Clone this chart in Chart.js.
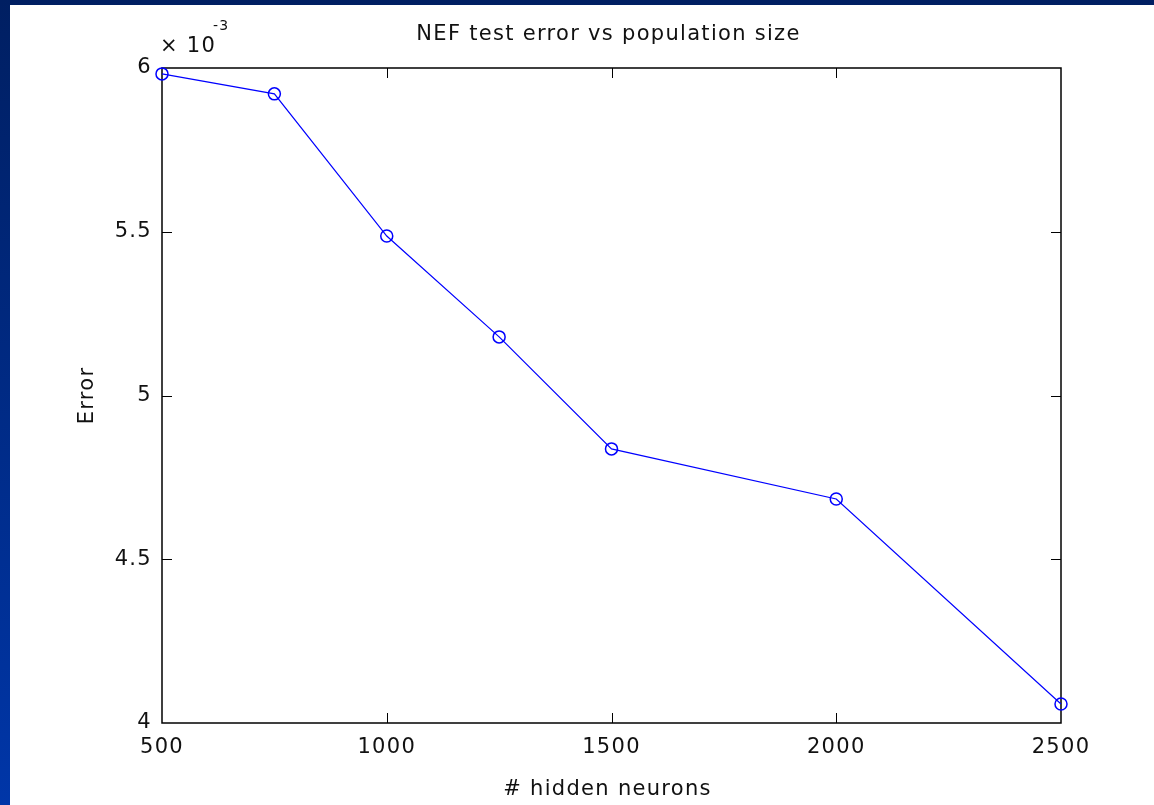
<!DOCTYPE html>
<html>
<head>
<meta charset="utf-8">
<script src="https://cdn.jsdelivr.net/npm/chart.js@4.4.1/dist/chart.umd.min.js"></script>
<style>
    html, body {
        margin: 0;
        padding: 0;
        width: 1154px;
        height: 805px;
        overflow: hidden;
        background: linear-gradient(to bottom, #001f62, #0036a8);
    }
    #marco {
        position: absolute;
        left: 10px;
        top: 5px;
        width: 1144px;
        height: 800px;
        background: #ffffff;
    }
</style>
</head>
<body>
<div id="marco">
    <canvas id="chartError" width="1144" height="800"></canvas>
</div>
<script>
const neurons = [500, 750, 1000, 1250, 1500, 2000, 2500];
const testError = [5.982e-3, 5.921e-3, 5.487e-3, 5.179e-3, 4.837e-3, 4.684e-3, 4.058e-3];
const xTicks = [500, 1000, 1500, 2000, 2500];
const yTicks = [4.0e-3, 4.5e-3, 5.0e-3, 5.5e-3, 6.0e-3];

const chartTitle = 'NEF test error vs population size';
const xLabel = '# hidden neurons';
const yLabel = 'Error';

const FONT = '"DejaVu Sans", sans-serif';
const SPACING = '1.3px';

// recuadro estilo matlab con marcas hacia dentro
const boxPlugin = {
    id: 'boxPlugin',
    beforeDraw: (chart) => {
        chart.ctx.letterSpacing = SPACING;
    },
    beforeDatasetsDraw: (chart) => {
        const { ctx, chartArea: a, scales } = chart;
        const len = 10;
        ctx.save();
        ctx.strokeStyle = '#000';
        ctx.lineWidth = 1.5;
        ctx.strokeRect(a.left, a.top, a.right - a.left, a.bottom - a.top);
        ctx.lineWidth = 1;
        ctx.beginPath();
        xTicks.slice(1, -1).forEach(v => {
            const x = Math.round(scales.x.getPixelForValue(v)) + 0.5;
            ctx.moveTo(x, a.bottom); ctx.lineTo(x, a.bottom - len);
            ctx.moveTo(x, a.top); ctx.lineTo(x, a.top + len);
        });
        yTicks.slice(1, -1).forEach(v => {
            const y = Math.round(scales.y.getPixelForValue(v)) + 0.5;
            ctx.moveTo(a.left, y); ctx.lineTo(a.left + len, y);
            ctx.moveTo(a.right, y); ctx.lineTo(a.right - len, y);
        });
        ctx.stroke();
        ctx.restore();
    },
    afterDraw: (chart) => {
        const { ctx, chartArea: a } = chart;
        const cx = (a.left + a.right) / 2;
        const cy = (a.top + a.bottom) / 2;
        ctx.save();
        ctx.letterSpacing = SPACING;
        ctx.fillStyle = '#111';
        ctx.textBaseline = 'middle';
        ctx.font = '21px ' + FONT;
        ctx.textAlign = 'center';
        ctx.fillText(chartTitle, cx - 3, 30);
        ctx.fillText(xLabel, cx - 4, 785);

        ctx.textAlign = 'left';
        ctx.fillText('\u00d7 10', 150, 42);
        ctx.font = '14px ' + FONT;
        ctx.fillText('-3', 203, 21);

        ctx.font = '21px ' + FONT;
        ctx.translate(78, cy);
        ctx.rotate(-Math.PI / 2);
        ctx.textAlign = 'center';
        ctx.fillText(yLabel, 0, 0);
        ctx.restore();
    }
};

const canvas = document.getElementById('chartError');
const context = canvas.getContext('2d');

const chartError = new Chart(context, {
    type: 'line',
    data: {
        datasets: [
            {
                label: 'Test error',
                data: neurons.map((n, i) => ({ x: n, y: testError[i] })),
                borderColor: '#0000ff',
                borderWidth: 1.2,
                tension: 0,
                pointStyle: 'circle',
                pointRadius: 6,
                pointHoverRadius: 6,
                pointBorderWidth: 1.5,
                pointBorderColor: '#0000ff',
                pointBackgroundColor: 'rgba(0,0,0,0)',
                clip: false
            }
        ]
    },
    options: {
        responsive: false,
        animation: false,
        events: [],
        layout: {
            padding: { left: 92, right: 93, top: 63, bottom: 0 }
        },
        plugins: {
            legend: { display: false },
            title: { display: false },
            tooltip: { enabled: false }
        },
        scales: {
            x: {
                type: 'linear',
                min: 500,
                max: 2500,
                afterBuildTicks: (scale) => {
                    scale.ticks = xTicks.map(v => ({ value: v }));
                },
                afterFit: (scale) => { scale.height = 82; },
                grid: { display: false, drawTicks: false },
                border: { display: false },
                ticks: {
                    padding: 12,
                    maxRotation: 0,
                    color: '#111',
                    font: { family: FONT, size: 21 },
                    callback: (v) => String(v)
                }
            },
            y: {
                type: 'linear',
                min: 4.0e-3,
                max: 6.0e-3,
                afterBuildTicks: (scale) => {
                    scale.ticks = yTicks.map(v => ({ value: v }));
                },
                afterFit: (scale) => { scale.width = 60; },
                grid: { display: false, drawTicks: false },
                border: { display: false },
                ticks: {
                    padding: 10,
                    color: '#111',
                    font: { family: FONT, size: 21 },
                    callback: (v) => String(Number((v * 1000).toFixed(2)))
                }
            }
        }
    },
    plugins: [boxPlugin]
});
</script>
</body>
</html>
